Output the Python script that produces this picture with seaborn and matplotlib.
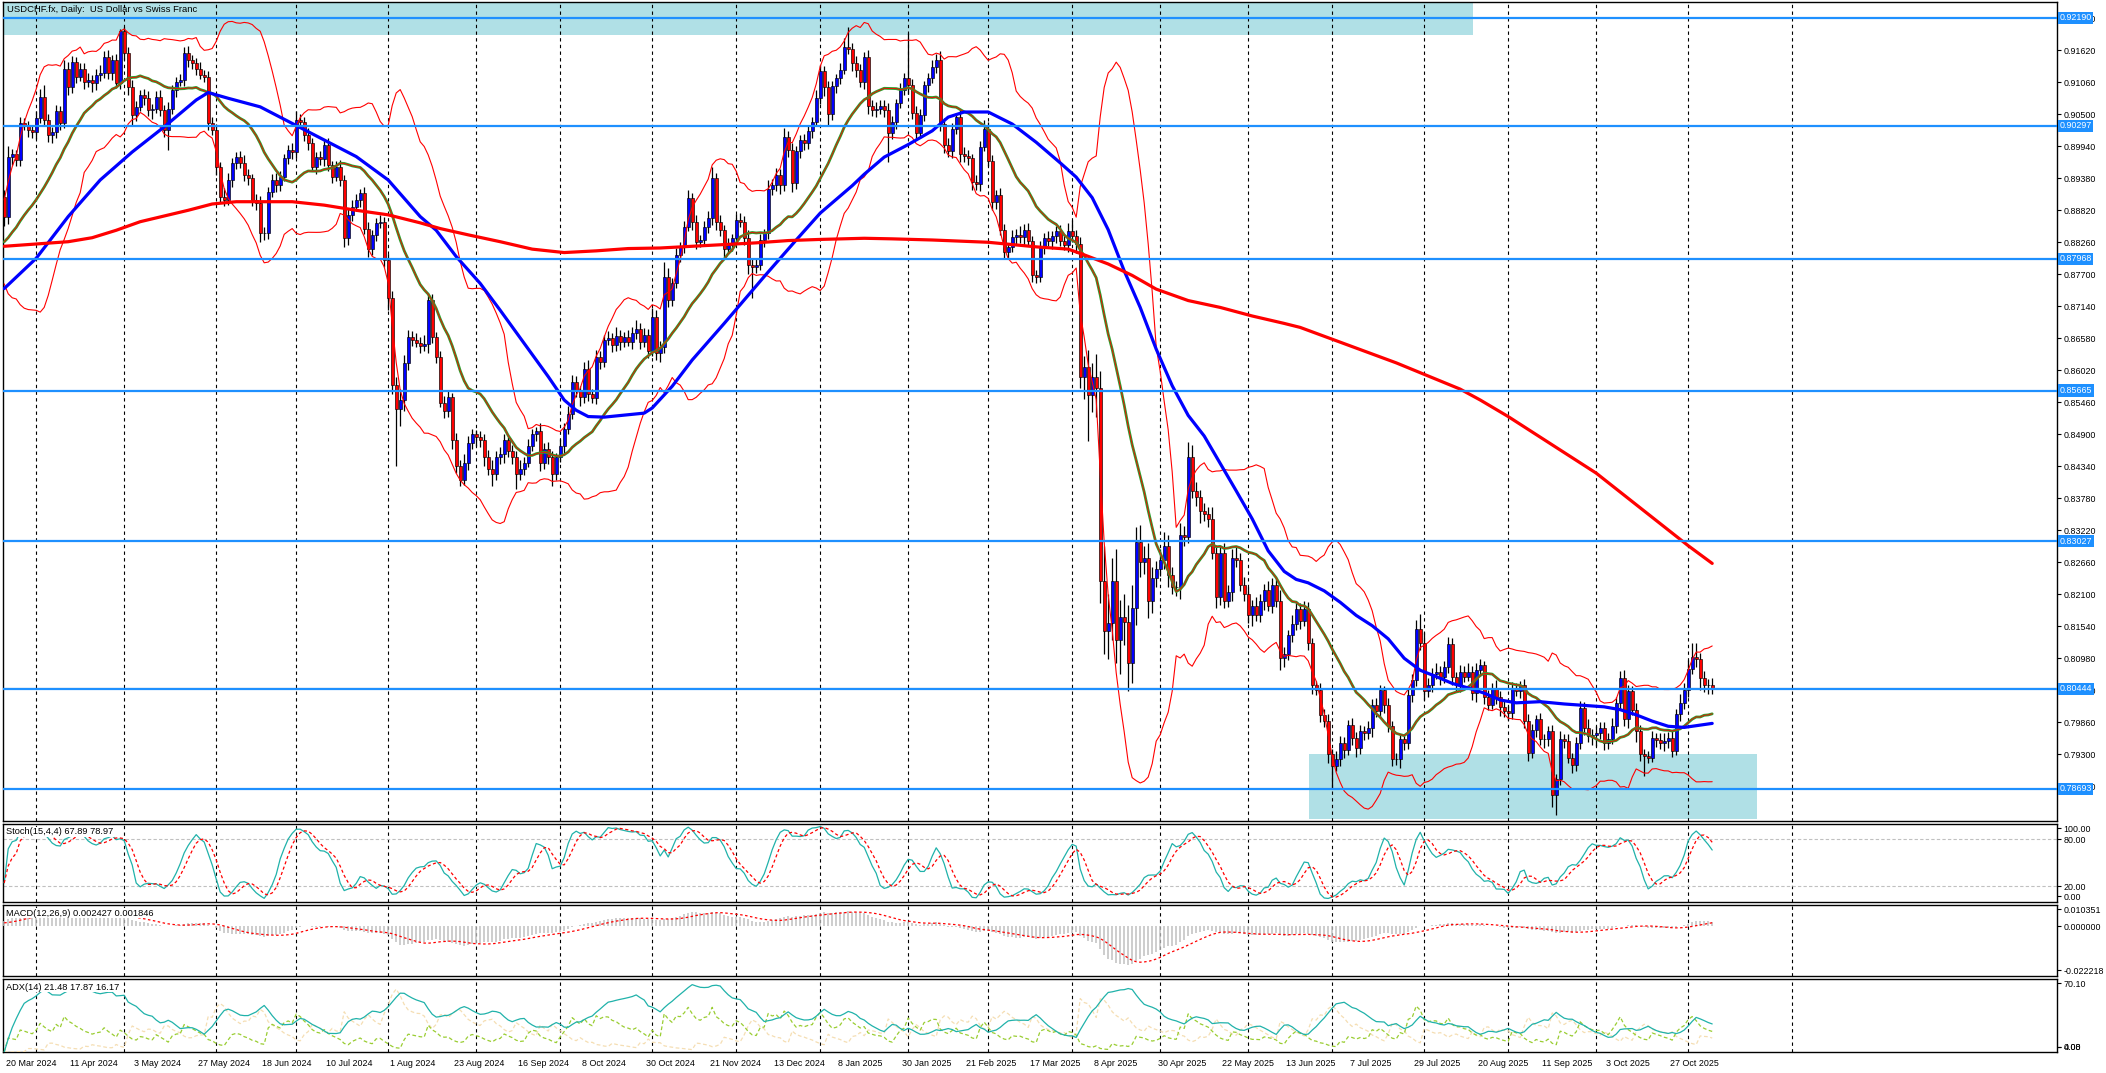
import numpy as np
import pandas as pd
import matplotlib
matplotlib.use("Agg")
import matplotlib.pyplot as plt
import matplotlib.transforms as mtransforms
from matplotlib.patches import Rectangle
import seaborn as sns

# ---------------- data (prices in 1/10000 CHF) ----------------
pre_close = [8690,8700,8730,8740,8760,8770,8840,8830,8800,8790,8800,8810,8820,8830,8790,8800,
             8810,8830,8840,8850,8850,8860,8820,8770,8760,8770,8800,8820,8850,8840,8870,8905]

close_pips = [
 8870,8976,8980,8970,9034,9031,9022,9019,9043,9081,
 9040,9014,9019,9055,9034,9130,9098,9142,9116,9130,
 9107,9110,9104,9119,9122,9151,9122,9145,9104,9195,
 9157,9098,9049,9063,9084,9078,9057,9060,9081,9057,
 9022,9060,9092,9107,9110,9157,9145,9139,9130,9119,
 9116,9034,9023,8958,8906,8900,8935,8964,8976,8964,
 8944,8938,8900,8895,8842,8842,8914,8935,8926,8941,
 8973,8987,8984,9040,9037,9014,8999,8958,8976,8972,
 8996,8961,8941,8958,8935,8833,8874,8888,8900,8912,
 8850,8815,8839,8859,8862,8795,8728,8576,8535,8550,
 8614,8661,8655,8650,8645,8648,8725,8661,8625,8545,
 8530,8555,8480,8435,8410,8440,8475,8490,8485,8480,
 8450,8430,8420,8450,8455,8480,8460,8450,8420,8430,
 8440,8470,8490,8495,8440,8465,8450,8420,8450,8470,
 8500,8525,8582,8567,8555,8605,8560,8553,8626,8617,
 8655,8658,8646,8662,8652,8661,8652,8667,8675,8652,
 8664,8635,8696,8632,8643,8766,8725,8754,8804,8818,
 8853,8903,8862,8827,8830,8853,8868,8938,8862,8847,
 8815,8822,8833,8865,8862,8833,8786,8783,8786,8830,
 8842,8920,8926,8944,8926,9011,8987,8929,8985,9005,
 8999,9020,9037,9078,9125,9097,9050,9099,9113,9128,
 9168,9165,9140,9128,9107,9151,9065,9057,9060,9065,
 9057,9017,9037,9069,9093,9113,9101,9053,9017,9049,
 9101,9113,9133,9145,9033,8997,8985,9025,9045,8981,
 8977,8973,8932,8928,8993,9025,8969,8897,8909,8848,
 8809,8817,8835,8839,8835,8848,8829,8768,8765,8817,
 8833,8829,8837,8845,8829,8821,8845,8837,8823,8591,
 8607,8559,8590,8571,8234,8146,8160,8234,8130,8170,
 8162,8090,8186,8302,8266,8274,8198,8238,8254,8270,
 8294,8243,8222,8222,8314,8310,8451,8391,8380,8355,
 8350,8342,8282,8206,8282,8198,8214,8274,8270,8226,
 8210,8174,8190,8174,8198,8218,8190,8226,8198,8098,
 8105,8138,8158,8184,8164,8184,8124,8051,8043,7999,
 7988,7930,7910,7921,7950,7938,7982,7959,7941,7970,
 7967,7976,8017,8005,8042,8017,7979,7921,7921,7956,
 7950,8034,8060,8150,8124,8040,8051,8071,8074,8066,
 8083,8123,8066,8051,8074,8066,8074,8037,8077,8086,
 8030,8017,8045,8030,8012,8005,8002,8045,8040,8051,
 7988,7933,7973,7991,7956,7956,7970,7858,7886,7956,
 7953,7924,7912,7950,8011,7976,7962,7964,7967,7976,
 7950,7956,7979,8020,8063,7991,8040,8008,7971,7930,
 7927,7924,7958,7955,7950,7953,7959,7936,8000,8020,
 8043,8080,8100,8097,8063,8051,8052,8046]

upper_wick_pips = [
 12,18,10,8,12,10,8,10,12,14, 20,10,8,12,10,15,12,10,8,10,
 10,12,8,10,15,10,12,8,10,5, 8,10,12,10,8,10,12,8,10,12,
 10,12,10,8,10,10,12,8,10,12, 8,10,12,10,8,15,12,10,8,10,
 15,10,8,10,12,10,8,10,12,10, 8,10,12,15,10,8,12,10,8,10,
 10,12,8,10,12,8,10,12,10,8, 10,12,8,10,12,8,10,12,15,20,
 15,12,10,12,10,15,12,10,8,10, 12,10,8,12,10,15,12,10,8,10,
 10,12,15,10,12,10,8,12,10,15, 10,12,10,8,15,10,12,10,8,12,
 10,15,12,10,8,12,15,10,12,10, 8,12,10,15,10,8,12,10,15,10,
 12,10,15,12,10,25,15,10,12,8, 10,15,10,12,8,10,12,20,10,12,
 10,12,8,10,12,10,15,10,12,10, 8,15,10,12,10,15,10,12,10,8,
 10,12,8,15,12,10,12,10,8,12, 15,35,10,12,10,8,12,10,12,10,
 10,12,10,8,12,10,80,10,12,10, 8,10,12,10,15,10,12,10,8,12,
 12,10,8,12,10,15,12,10,8,12, 10,8,12,10,15,10,12,8,10,12,
 10,12,8,10,12,10,15,20,10,12, 20,30,25,40,30,60,50,40,55,30,
 40,30,40,25,30,20,25,20,15,20, 25,20,15,12,20,15,25,20,15,12,
 15,12,20,15,12,18,12,15,20,12, 15,12,10,15,12,10,15,12,10,20,
 12,10,15,12,10,15,12,10,8,12, 10,12,10,15,12,10,8,12,10,12,
 10,12,10,12,10,8,12,10,12,10, 8,12,10,15,25,20,12,10,15,10,
 10,12,10,8,12,10,15,10,12,10, 8,12,10,15,10,12,10,12,10,8,
 10,12,10,8,12,10,10,12,10,15, 10,12,8,10,12,10,15,10,12,10,
 10,12,15,10,12,15,12,10,12,10, 10,8,12,10,12,15,10,12,10,15,
 12,15,25,25,10,12,10,12]

lower_wick_pips = [
 15,12,14,10,10,8,12,10,12,8, 10,12,15,10,12,8,14,10,12,8,
 12,10,15,12,10,8,10,12,8,10, 12,15,20,10,8,12,10,15,8,10,
 12,35,10,12,8,10,12,10,12,8, 10,12,10,15,12,10,8,12,10,8,
 10,12,10,12,15,12,10,8,12,10, 8,10,12,10,8,10,12,8,12,10,
 12,10,12,8,10,15,12,10,8,12, 10,15,12,10,8,12,20,15,100,30,
 20,12,10,8,12,10,15,12,10,8, 12,10,15,12,10,8,12,10,15,12,
 15,12,20,10,12,15,10,12,25,10, 12,8,10,12,15,10,12,20,10,8,
 12,10,8,12,15,10,12,8,10,12, 10,8,12,10,15,10,8,12,10,12,
 10,12,8,12,15,10,12,10,8,12, 10,8,15,12,10,8,10,12,15,10,
 15,10,12,8,10,12,15,55,10,8, 12,10,12,10,15,10,12,15,10,12,
 12,10,12,8,10,15,20,10,12,10, 8,10,15,12,10,12,15,10,12,10,
 12,50,10,12,8,10,15,12,10,8, 10,12,8,10,12,15,10,12,10,15,
 10,12,15,10,12,8,10,15,12,10, 12,10,8,12,10,15,10,12,10,8,
 12,10,15,12,10,8,12,10,15,20, 40,80,30,50,40,40,50,30,40,60,
 40,50,35,30,25,20,30,20,15,12, 15,20,12,15,20,15,10,12,15,20,
 12,15,10,20,15,12,10,15,12,10, 12,15,20,10,12,15,10,12,10,20,
 15,10,12,10,15,10,12,15,10,12, 10,15,40,10,12,15,10,12,15,10,
 12,10,15,10,12,15,10,12,10,15, 12,10,12,10,12,15,10,12,10,15,
 12,10,15,10,12,10,8,12,15,10, 12,10,8,12,15,10,12,10,8,12,
 12,15,10,12,10,15,12,20,35,10, 12,10,15,12,10,12,10,15,20,10,
 12,10,8,12,10,12,15,10,20,12, 35,10,8,12,10,15,12,10,8,12,
 10,12,10,15,20,12,15,10]

# 50-period (blue) and 200-period (red) moving averages
ma50_bar = [0,8,16,24,32,40,48,51,56,64,72,80,88,96,104,108,113,119,124,130,136,140,143,146,150,
            160,162,167,172,180,190,198,204,212,215,220,226,232,236,240,246,252,258,264,268,272,
            276,280,284,288,292,296,300,304,308,312,316,320,323,326,330,334,338,342,346,350,354,
            358,362,366,370,374,378,384,390,396,400,404,408,412,416,420,424,427]
ma50_val = [0.8745,0.8798,0.8871,0.8935,0.8984,0.9028,0.9075,0.9088,0.9078,0.9063,0.9034,0.9005,
            0.8976,0.8935,0.8871,0.8847,0.8801,0.8754,0.8707,0.8649,0.8591,0.8550,0.8532,0.8521,
            0.8520,0.8527,0.8536,0.8574,0.8620,0.8684,0.8766,0.8830,0.8877,0.8925,0.8945,0.8975,
            0.8997,0.9021,0.9045,0.9054,0.9054,0.9033,0.9001,0.8965,0.8940,0.8904,0.8848,0.8776,
            0.8712,0.8639,0.8575,0.8523,0.8487,0.8439,0.8391,0.8342,0.8286,0.8250,0.8236,0.8230,
            0.8216,0.8196,0.8173,0.8155,0.8132,0.8098,0.8077,0.8066,0.8054,0.8046,0.8037,0.8025,
            0.8020,0.8022,0.8018,0.8015,0.8013,0.8008,0.7999,0.7988,0.7979,0.7977,0.7981,0.7984]
ma200_bar = [0,10,16,22,28,34,40,46,52,58,66,72,80,88,96,104,109,116,124,132,140,148,156,164,172,
             180,188,196,204,215,222,232,246,258,266,270,276,282,288,296,304,312,320,324,348,364,
             369,376,398,421,427]
ma200_val = [0.8819,0.8824,0.8827,0.8834,0.8847,0.8862,0.8872,0.8882,0.8893,0.8897,0.8897,0.8897,
             0.8891,0.8882,0.8874,0.8860,0.8850,0.8839,0.8827,0.8814,0.8808,0.8811,0.8815,0.8816,
             0.8819,0.8822,0.8825,0.8829,0.8831,0.8833,0.8832,0.8830,0.8826,0.8818,0.8814,0.8804,
             0.8788,0.8768,0.8744,0.8724,0.8712,0.8697,0.8684,0.8677,0.8615,0.8569,0.8550,0.8521,
             0.8422,0.8295,0.8264]

levels = [0.92190, 0.90297, 0.87968, 0.85665, 0.83027, 0.80444, 0.78693]
price_ticks = [0.92180, 0.91620, 0.91060, 0.90500, 0.89940, 0.89380, 0.88820, 0.88260, 0.87700,
               0.87140, 0.86580, 0.86020, 0.85460, 0.84900, 0.84340, 0.83780, 0.83220, 0.82660,
               0.82100, 0.81540, 0.80980, 0.80420, 0.79860, 0.79300, 0.78740]
zone_top = (-0.3, 367.2, 0.91887, 0.9250)      # x0, x1 (bars), y0, y1 (price)
zone_bottom = (326.2, 438.2, 0.78172, 0.79304)
start_date = "2024-03-20"
title = "USDCHF.fx, Daily:  US Dollar vs Swiss Franc"
stoch_label = "Stoch(15,4,4) 67.89 78.97"
macd_label = "MACD(12,26,9) 0.002427 0.001846"
adx_label = "ADX(14) 21.48 17.87 16.17"

# ---------------- derived ----------------
n = min(len(close_pips), len(upper_wick_pips), len(lower_wick_pips))
close = np.array(close_pips[:n]) / 1e4
openp = np.r_[pre_close[-1] / 1e4, close[:-1]]
high = np.maximum(openp, close) + np.array(upper_wick_pips[:n]) / 1e4
low = np.minimum(openp, close) - np.array(lower_wick_pips[:n]) / 1e4
idx = np.arange(n)

dates = pd.bdate_range(start_date, periods=n + 20)
dates = dates[~((dates.month == 12) & (dates.day == 25)) & ~((dates.month == 1) & (dates.day == 1))][:n]

full = pd.Series(np.r_[np.array(pre_close) / 1e4, close])
npre = len(pre_close)
sma20 = full.rolling(20, min_periods=1).mean().values[npre:]
sd20 = full.rolling(20, min_periods=2).std(ddof=0).values[npre:]
bb_up, bb_lo = sma20 + 2 * sd20, sma20 - 2 * sd20
ema12 = full.ewm(span=12, adjust=False).mean()
ema26 = full.ewm(span=26, adjust=False).mean()
macd_full = ema12 - ema26
macd = macd_full.values[npre:]
macd_sig = macd_full.rolling(9, min_periods=1).mean().values[npre:]

h, l, c = pd.Series(high), pd.Series(low), pd.Series(close)
ll = l.rolling(15, min_periods=1).min()
hh = h.rolling(15, min_periods=1).max()
stk = 100 * (c - ll).rolling(4, min_periods=1).sum() / (hh - ll).rolling(4, min_periods=1).sum()
std_ = stk.rolling(4, min_periods=1).mean()

upm = h.diff()
dnm = -l.diff()
pdm = pd.Series(np.where((upm > dnm) & (upm > 0), upm, 0.0))
ndm = pd.Series(np.where((dnm > upm) & (dnm > 0), dnm, 0.0))
tr = pd.concat([h - l, (h - c.shift()).abs(), (l - c.shift()).abs()], axis=1).max(axis=1)
atr = tr.ewm(span=14, adjust=False).mean()
pdi = 100 * pdm.ewm(span=14, adjust=False).mean() / atr
ndi = 100 * ndm.ewm(span=14, adjust=False).mean() / atr
dx = 100 * (pdi - ndi).abs() / (pdi + ndi).replace(0, np.nan)
adx = dx.fillna(0).ewm(span=14, adjust=False).mean()

# ---------------- figure ----------------
sns.set_style("white")
plt.rcParams["font.family"] = ["Liberation Sans", "DejaVu Sans"]
FS = 6.4
W, H = 2106, 1073
fig = plt.figure(figsize=(W / 100, H / 100), dpi=100)
fig.patch.set_facecolor("white")

def axes_px(top, bottom, left=3, right=2057):
    return fig.add_axes([left / W, 1 - bottom / H, (right - left) / W, (bottom - top) / H])

ax = axes_px(2, 821)
ax_st = axes_px(823.5, 902)
ax_mc = axes_px(904.5, 976)
ax_ad = axes_px(978.5, 1052)
XL = (-0.3, 513.2)
all_axes = [ax, ax_st, ax_mc, ax_ad]

month_start = [i for i in range(1, n) if dates[i].month != dates[i - 1].month] + [447]
for a in all_axes:
    a.set_facecolor("white")
    a.set_xlim(*XL)
    for s in a.spines.values():
        s.set_color("black")
        s.set_linewidth(1.0)
    a.set_xticks([])
    a.yaxis.tick_right()
    a.tick_params(axis="y", length=3, width=0.8, pad=1.5, labelsize=FS, colors="black", direction="out")
    for m in month_start:
        a.axvline(m, color="black", lw=0.8, ls=(0, (3, 3)), zorder=1)

# --- main panel ---
ax.set_ylim(0.78132, 0.92465)
for (x0, x1, y0, y1) in (zone_top, zone_bottom):
    ax.add_patch(Rectangle((x0, y0), x1 - x0, y1 - y0, facecolor="#B0E0E6", edgecolor="none", zorder=0.5))

ax.vlines(idx, low, high, color="black", lw=0.9, zorder=4)
up = close >= openp
ax.bar(idx[up], (close - openp)[up], bottom=openp[up], width=0.75, color="#0000FF",
       edgecolor="black", linewidth=0.45, zorder=5)
ax.bar(idx[~up], (openp - close)[~up], bottom=close[~up], width=0.75, color="#FF0000",
       edgecolor="black", linewidth=0.45, zorder=5)

sns.lineplot(x=idx, y=bb_up, ax=ax, color="#FF0000", lw=0.8, zorder=6)
sns.lineplot(x=idx, y=bb_lo, ax=ax, color="#FF0000", lw=0.8, zorder=6)
sns.lineplot(x=idx, y=sma20, ax=ax, color="#2EA02E", lw=2.0, zorder=6)
sns.lineplot(x=idx, y=sma20, ax=ax, color="#FF0000", lw=0.6, zorder=6.1)
sns.lineplot(x=ma50_bar, y=ma50_val, ax=ax, color="#0000FF", lw=2.3, zorder=6.2)
sns.lineplot(x=ma200_bar, y=ma200_val, ax=ax, color="#FF0000", lw=2.3, zorder=6.2)

for lv in levels:
    ax.axhline(lv, color="#1E90FF", lw=1.6, zorder=7)
ax.axhline(close[-1], color="#A0A0A0", lw=0.8, zorder=6.5)

ax.set_yticks(price_ticks)
ax.set_yticklabels([f"{t:.5f}" for t in price_ticks])
trans = mtransforms.blended_transform_factory(ax.transAxes, ax.transData)
for lv in levels:
    ax.text(1.0012, lv, f"{lv:.5f}", transform=trans, ha="left", va="center", fontsize=FS,
            color="white", zorder=20, clip_on=False,
            bbox=dict(boxstyle="square,pad=0.18", fc="#1E90FF", ec="none"))
ax.set_ylabel("")
fig.text(7 / W, 1 - 9.5 / H, title, ha="left", va="center", fontsize=FS + 0.4, color="black")

# --- stochastic ---
ax_st.set_ylim(0, 100)
for lvl in (20, 80):
    ax_st.axhline(lvl, color="#C0C0C0", lw=0.8, ls=(0, (3, 2)), zorder=2)
sns.lineplot(x=idx, y=stk.values, ax=ax_st, color="#20B2AA", lw=0.9, zorder=4)
sns.lineplot(x=idx, y=std_.values, ax=ax_st, color="#FF0000", lw=0.9, linestyle=(0, (2.5, 2)), zorder=4)
ax_st.set_yticks([93.7, 80, 20, 7.3])
ax_st.set_yticklabels(["100.00", "80.00", "20.00", "0.00"])

# --- MACD ---
ax_mc.set_ylim(-0.0250, 0.0110)
ax_mc.vlines(idx, 0, macd, color="#C0C0C0", lw=1.1, zorder=3)
sns.lineplot(x=idx, y=macd_sig, ax=ax_mc, color="#FF0000", lw=0.9, linestyle=(0, (2, 2)), zorder=4)
ax_mc.set_yticks([0.00873, 0.0, -0.022218])
ax_mc.set_yticklabels(["0.010351", "0.000000", "-0.022218"])

# --- ADX ---
ax_ad.set_ylim(0, 75)
sns.lineplot(x=idx, y=ndi.values, ax=ax_ad, color="#F5DEB3", lw=0.9, linestyle=(0, (3, 2)), zorder=3)
sns.lineplot(x=idx, y=pdi.values, ax=ax_ad, color="#9ACD32", lw=0.9, linestyle=(0, (3, 2)), zorder=3)
sns.lineplot(x=idx, y=adx.values, ax=ax_ad, color="#20B2AA", lw=0.9, zorder=4)
ax_ad.set_yticks([70.1, 5.4, 5.41])
ax_ad.set_yticklabels(["70.10", "0.00", "4.08"])

for a in all_axes:
    a.set_ylabel("")
    a.set_xlabel("")

# indicator captions (white background as in terminal)
for ypx, txt in ((832, stoch_label), (913, macd_label), (987, adx_label)):
    fig.text(6 / W, 1 - ypx / H, txt, ha="left", va="center", fontsize=FS + 0.3, color="black",
             zorder=30, bbox=dict(boxstyle="square,pad=0.1", fc="white", ec="none"))

# date labels every 16 bars
lab_bars = list(range(0, n - 8, 16))
ax_ad.set_xticks(lab_bars)
ax_ad.set_xticklabels([f"{dates[i].day} {dates[i].strftime('%b %Y')}" for i in lab_bars])
ax_ad.tick_params(axis="x", length=4, width=0.8, pad=1.0, labelsize=FS, colors="black", direction="out")
off = mtransforms.ScaledTranslation(2 / 100, 0, fig.dpi_scale_trans)
for lab in ax_ad.get_xticklabels():
    lab.set_horizontalalignment("left")
    lab.set_transform(lab.get_transform() + off)

fig.savefig("out.png", dpi=100, facecolor="white")
